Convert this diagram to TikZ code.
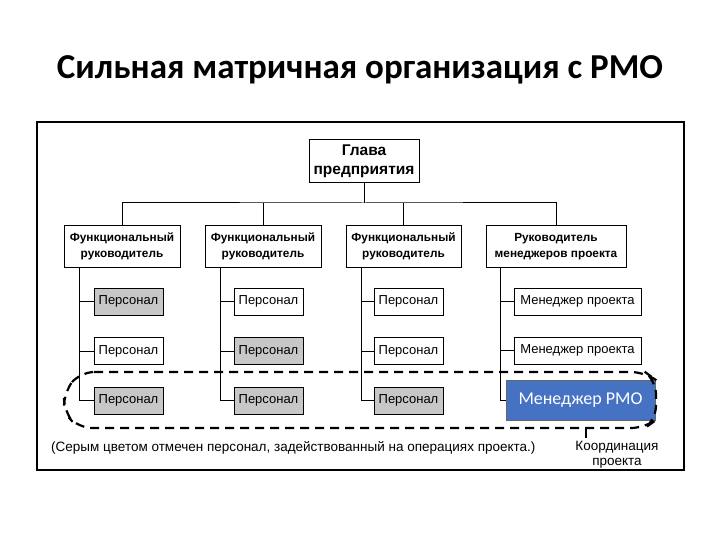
\documentclass[tikz,border=0pt]{standalone}
\usepackage{fontspec}
\setmainfont{Liberation Sans}
\newfontfamily\titlefont{Carlito}
\begin{document}
\begin{tikzpicture}[x=1pt,y=-1pt,
  box/.style={draw,line width=1pt,fill=white,inner sep=0pt,align=center},
  pers/.style={draw,line width=0.8pt,inner sep=0pt,minimum width=69pt,minimum height=27pt,font=\fontsize{13}{14}\selectfont},
  gray/.style={fill=black!22},
  ln/.style={line width=1pt}]
\useasboundingbox (0,0) rectangle (720,540);
\node[font=\titlefont\bfseries\fontsize{35}{40}\selectfont] (title) at (360,70) {Сильная матричная организация с PMO};
\draw[line width=1.2pt] (37,122) rectangle (684,470);
\node[box,minimum width=110pt,minimum height=43pt,font=\bfseries\fontsize{15.5}{19}\selectfont] (head) at (364,161.5) {Глава\\предприятия};
\foreach \i/\x/\w/\t in {1/122/116/Функциональный\\руководитель,2/263/116/Функциональный\\руководитель,3/403.5/115/Функциональный\\руководитель,4/556/140/Руководитель\\менеджеров проекта}{
  \node[box,minimum width=\w pt,minimum height=41pt,font=\bfseries\fontsize{11.8}{15.5}\selectfont] (f\i) at (\x,246.5) {\t};
}
\coordinate (bus) at (364,203);
\draw[ln] (head.south) -- (bus);
\draw[ln] (f1.north) |- (bus) -| (f4.north);
\draw[ln] (f2.north) -- (f2.north |- bus);
\draw[ln] (f3.north) -- (f3.north |- bus);
% staff
\foreach \c/\vx/\px/\ga/\gb/\gc in {1/79/128.5/gray//gray,2/220/268.5//gray/gray,3/361/408.5///gray}{
  \node[pers,\ga] (p\c a) at (\px,301.5) {Персонал};
  \node[pers,\gb] (p\c b) at (\px,351) {Персонал};
  \node[pers,\gc] (p\c c) at (\px,400.5) {Персонал};
  \coordinate (v\c) at (\vx,400.5);
  \draw[ln] (f\c.south -| v\c) -- (v\c) -- (p\c c.west);
  \draw[ln] (p\c a.west) -- (p\c a.west -| v\c);
  \draw[ln] (p\c b.west) -- (p\c b.west -| v\c);
}
\node[pers,minimum width=127pt] (m1) at (577.5,301.5) {Менеджер проекта};
\node[pers,minimum width=127pt] (m2) at (577.5,350.5) {Менеджер проекта};
\coordinate (v4) at (500,400);
\node[draw=black!60,fill={rgb,255:red,70;green,114;blue,196},text=white,minimum width=149pt,minimum height=40pt,inner sep=0pt,font=\titlefont\fontsize{18}{20}\selectfont] (pmo) at (580.5,400) {Менеджер PMO};
\draw[ln] (f4.south -| v4) -- (v4) -- (pmo.west);
\draw[ln] (m1.west) -- (m1.west -| v4);
\draw[ln] (m2.west) -- (m2.west -| v4);
% dashed zone
\draw[line width=2.2pt,dash pattern=on 9pt off 6pt,rounded corners=14pt] (80,372) -- (645,372) -- (656,380) -- (656,420) -- (645,428) -- (78,428) -- (64,412) -- (64,392) -- cycle;
\coordinate (tick) at (586,428);
\node[font=\fontsize{13.5}{15}\selectfont,align=center] (coord) at (617,455) {Координация\\проекта};
\draw[line width=1.5pt] (tick) -- (586,438);
\node[font=\fontsize{13.5}{15}\selectfont,anchor=west,inner sep=0pt] (note) at (51,448) {(Серым цветом отмечен персонал, задействованный на операциях проекта.)};
\end{tikzpicture}
\end{document}
